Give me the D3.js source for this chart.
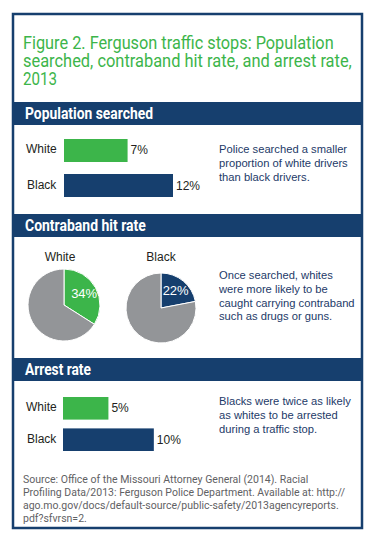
<!DOCTYPE html>
<html>
<head>
<meta charset="utf-8">
<script src="https://d3js.org/d3.v7.min.js"></script>
<style>
  body { margin: 0; background: #fff; }
  text { font-family: "Liberation Sans", Arial, sans-serif; }
</style>
</head>
<body>
<script>
// Data
var groups = ["White", "Black"];
var searched = [7, 12];      // % of drivers searched
var hitRate = [34, 22];      // % of searches finding contraband
var arrests = [5, 10];       // % of stops ending in arrest

var titleLines = [
  "Figure 2. Ferguson traffic stops: Population",
  "searched, contraband hit rate, and arrest rate,",
  "2013"
];
var sectionTitles = ["Population searched", "Contraband hit rate", "Arrest rate"];
var notes = [
  ["Police searched a smaller", "proportion of white drivers", "than black drivers."],
  ["Once searched, whites", "were more likely to be", "caught carrying contraband", "such as drugs or guns."],
  ["Blacks were twice as likely", "as whites to be arrested", "during a traffic stop."]
];
var sourceLines = [
  "Source: Office of the Missouri Attorney General (2014). Racial",
  "Profiling Data/2013: Ferguson Police Department. Available at: http://",
  "ago.mo.gov/docs/default-source/public-safety/2013agencyreports.",
  "pdf?sfvrsn=2."
];

var green = "#3cb54a", navy = "#163f6e", grey = "#939598";

var svg = d3.select("body").append("svg")
  .attr("width", 373)
  .attr("height", 548);

// frame
svg.append("rect")
  .attr("x", 13).attr("y", 14)
  .attr("width", 349).attr("height", 514)
  .attr("fill", "#fff")
  .attr("stroke", navy)
  .attr("stroke-width", 2.5);

// squeeze a text horizontally to a target width (no condensed font available)
function squeeze(g, text, width) {
  var len = text.node().getComputedTextLength();
  var k = Math.min(1, width / len);
  g.attr("transform", g.attr("transform") + " scale(" + k + ",1)");
}

// title
var titleWidths = [311, 329, 34];
var titleY = [49, 67, 85];
titleLines.forEach(function(t, i) {
  var g = svg.append("g").attr("transform", "translate(23," + titleY[i] + ")");
  var txt = g.append("text")
    .style("font-family", "Roboto, sans-serif")
    .style("font-size", "19px")
    .attr("fill", green)
    .text(t);
  squeeze(g, txt, titleWidths[i]);
});

// section headers
var bandTops = [102, 214, 358];
var headWidths = [128, 121, 66];
sectionTitles.forEach(function(t, i) {
  svg.append("rect")
    .attr("x", 13).attr("y", bandTops[i])
    .attr("width", 349).attr("height", 23)
    .attr("fill", navy);
  var g = svg.append("g").attr("transform", "translate(25," + (bandTops[i] + 17) + ")");
  var txt = g.append("text")
    .style("font-family", "Roboto, sans-serif")
    .style("font-weight", "bold")
    .style("font-size", "16px")
    .attr("fill", "#fff")
    .text(t);
  squeeze(g, txt, headWidths[i]);
});

// bar charts
var x = d3.scaleLinear().domain([0, 12]).range([0, 109]);

function barChart(values, left, top, bottom, pad) {
  var y = d3.scaleBand().domain(groups).range([top, bottom]).paddingInner(pad);
  var g = svg.append("g");
  var rows = groups.map(function(k, i) { return {key: k, v: values[i]}; });
  g.selectAll("rect")
    .data(rows)
    .join("rect")
    .attr("x", left)
    .attr("y", function(d) { return y(d.key); })
    .attr("width", function(d) { return x(d.v); })
    .attr("height", y.bandwidth())
    .attr("fill", function(d, i) { return i === 0 ? green : navy; });
  g.selectAll("text.cat")
    .data(rows)
    .join("text")
    .attr("class", "cat")
    .attr("x", function(d, i) { return i === 0 ? 26 : 27; })
    .attr("y", function(d) { return y(d.key) + y.bandwidth() / 2 + 3; })
    .style("font-size", "12px")
    .attr("fill", "#231f20")
    .text(function(d) { return d.key; });
  g.selectAll("text.val")
    .data(rows)
    .join("text")
    .attr("class", "val")
    .attr("x", function(d) { return left + x(d.v) + 3; })
    .attr("y", function(d) { return y(d.key) + y.bandwidth() / 2 + 4; })
    .style("font-size", "12px")
    .attr("fill", "#231f20")
    .text(function(d) { return d.v + "%"; });
}

barChart(searched, 64, 139, 197, 0.343);
barChart(arrests, 63, 397, 451, 0.28);

// pies
var pie = d3.pie().sort(null);
var pieSpots = [{cx: 64, cy: 305, r: 36}, {cx: 161, cy: 308, r: 35}];
hitRate.forEach(function(v, i) {
  var p = pieSpots[i];
  var g = svg.append("g").attr("transform", "translate(" + p.cx + "," + p.cy + ")");
  var arc = d3.arc().innerRadius(0).outerRadius(p.r);
  var labelArc = d3.arc().innerRadius(23).outerRadius(23);
  var slices = pie([v, 100 - v]);
  g.selectAll("path")
    .data(slices)
    .join("path")
    .attr("d", arc)
    .attr("fill", function(d, j) { return j === 0 ? (i === 0 ? green : navy) : grey; })
    .attr("stroke", "#fff")
    .attr("stroke-width", 1);
  var c = labelArc.centroid(slices[0]);
  g.append("text")
    .attr("x", c[0]).attr("y", c[1] + 4.5)
    .attr("text-anchor", "middle")
    .style("font-size", "13px")
    .attr("fill", "#fff")
    .text(v + "%");
  svg.append("text")
    .attr("x", p.cx - (i === 0 ? 4 : 0)).attr("y", 261)
    .attr("text-anchor", "middle")
    .style("font-size", "12px")
    .attr("fill", "#231f20")
    .text(groups[i]);
});

// side notes
var noteTops = [153, 279, 405];
notes.forEach(function(lines, i) {
  svg.append("g").selectAll("text")
    .data(lines)
    .join("text")
    .attr("x", 219)
    .attr("y", function(d, j) { return noteTops[i] + j * 13.8; })
    .style("font-size", "11.2px")
    .attr("fill", "#1d3a68")
    .text(function(d) { return d; });
});

// source
svg.append("g").selectAll("text")
  .data(sourceLines)
  .join("text")
  .attr("x", 23)
  .attr("y", function(d, i) { return 483 + i * 13; })
  .style("font-family", "Roboto, sans-serif")
  .style("font-size", "10.5px")
  .attr("fill", "#5f6164")
  .text(function(d) { return d; });
</script>
</body>
</html>
